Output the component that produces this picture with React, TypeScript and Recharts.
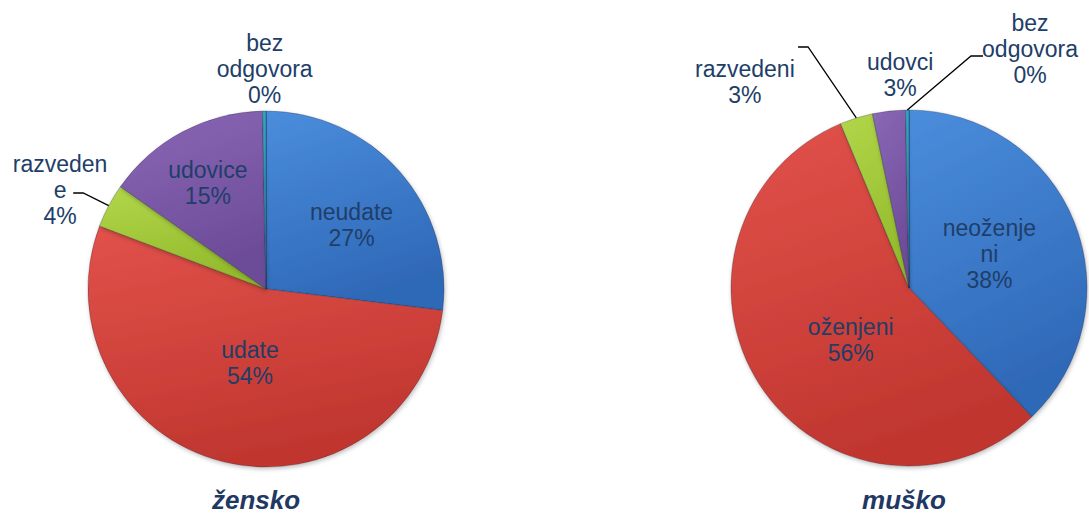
import { PieChart, Pie, Cell } from "recharts";

const femaleCategories = ["neudate", "udate", "razvedene", "udovice", "bez odgovora"];
const femaleValues = [27, 54, 4, 15, 0.3];
const femaleLabelLines = [["neudate"], ["udate"], ["razveden", "e"], ["udovice"], ["bez", "odgovora"]];

const maleCategories = ["neoženjeni", "oženjeni", "razvedeni", "udovci", "bez odgovora"];
const maleValues = [38, 56, 3, 3, 0.3];
const maleLabelLines = [["neoženje", "ni"], ["oženjeni"], ["razvedeni"], ["udovci"], ["bez", "odgovora"]];

const titles = ["žensko", "muško"];

const colors = [
  ["#4a8ddc", "#2f69b8"],
  ["#e2524b", "#c0362f"],
  ["#b2d64a", "#93bb2c"],
  ["#8a68b6", "#6c4b98"],
  ["#35aac4", "#1f8aa3"],
];

const LABEL_COLOR = "#203e68";
const RADIAN = Math.PI / 180;

interface Placement {
  rf: number;
  da: number;
  elbow?: { rf: number; da: number; len: number };
}

const femalePlacement: Placement[] = [
  { rf: 0.6, da: -4.8 },
  { rf: 0.425, da: 1.6 },
  { rf: 1.284, da: 2.2, elbow: { rf: 1.16, da: 0.2, len: -10 } },
  { rf: 0.68, da: 0.7 },
  { rf: 1.236, da: -0.2 },
];

const malePlacement: Placement[] = [
  { rf: 0.49, da: 1.0 },
  { rf: 0.44, da: 8.8 },
  { rf: 1.48, da: 21.3, elbow: { rf: 1.468, da: 5.5, len: -10 } },
  { rf: 1.2, da: -4.1 },
  { rf: 1.505, da: -27.4, elbow: { rf: 1.349, da: -15.5, len: 12 } },
];

const polar = (cx: number, cy: number, r: number, a: number) => ({
  x: cx + r * Math.cos(a * RADIAN),
  y: cy - r * Math.sin(a * RADIAN),
});

const makeLabel = (placement: Placement[], lines: string[][]) => (props: any) => {
  const { cx, cy, midAngle, outerRadius, index, value } = props;
  const p = placement[index];
  const pos = polar(cx, cy, outerRadius * p.rf, midAngle + p.da);
  const text = [...lines[index], `${Math.round(value)}%`];
  const lh = 26;
  const y0 = pos.y - ((text.length - 1) * lh) / 2;
  let leader = null;
  if (p.elbow) {
    const start = polar(cx, cy, outerRadius, midAngle);
    const elbow = polar(cx, cy, outerRadius * p.elbow.rf, midAngle + p.elbow.da);
    leader = (
      <polyline
        points={`${start.x},${start.y} ${elbow.x},${elbow.y} ${elbow.x + p.elbow.len},${elbow.y}`}
        fill="none"
        stroke="#000"
        strokeWidth={1.3}
      />
    );
  }
  return (
    <g>
      {leader}
      <text
        x={pos.x}
        y={y0}
        textAnchor="middle"
        fill={LABEL_COLOR}
        fontSize={23}
        fontFamily="'Liberation Sans', Arial, sans-serif"
      >
        {text.map((t, i) => (
          <tspan key={i} x={pos.x} y={y0 + i * lh} dominantBaseline="central">
            {t}
          </tspan>
        ))}
      </text>
    </g>
  );
};

const femaleData = femaleCategories.map((name, i) => ({ name, value: femaleValues[i] }));
const maleData = maleCategories.map((name, i) => ({ name, value: maleValues[i] }));

const App = () => {
  return (
    <div style={{ position: "absolute", left: 0, top: 0, width: 1089, height: 514, background: "#fff", overflow: "hidden" }}>
      <PieChart width={1089} height={514} margin={{ top: 0, right: 0, bottom: 0, left: 0 }}>
        <defs>
          {colors.map((c, i) => (
            <linearGradient key={i} id={`grad${i}`} x1="0" y1="0" x2="0.3" y2="1">
              <stop offset="0%" stopColor={c[0]} />
              <stop offset="100%" stopColor={c[1]} />
            </linearGradient>
          ))}
          <filter id="shadow" x="-10%" y="-10%" width="120%" height="120%">
            <feDropShadow dx="1" dy="2" stdDeviation="2" floodColor="#000" floodOpacity="0.25" />
          </filter>
        </defs>
        <Pie
          data={femaleData}
          dataKey="value"
          nameKey="name"
          cx={266}
          cy={289}
          outerRadius={178}
          startAngle={90}
          endAngle={-270}
          stroke="rgba(30,30,50,0.35)"
          strokeWidth={0.8}
          label={makeLabel(femalePlacement, femaleLabelLines)}
          labelLine={false}
          isAnimationActive={false}
          style={{ filter: "url(#shadow)" }}
        >
          {femaleData.map((_, i) => (
            <Cell key={i} fill={`url(#grad${i})`} />
          ))}
        </Pie>
        <Pie
          data={maleData}
          dataKey="value"
          nameKey="name"
          cx={909}
          cy={288}
          outerRadius={178}
          startAngle={90}
          endAngle={-270}
          stroke="rgba(30,30,50,0.35)"
          strokeWidth={0.8}
          label={makeLabel(malePlacement, maleLabelLines)}
          labelLine={false}
          isAnimationActive={false}
          style={{ filter: "url(#shadow)" }}
        >
          {maleData.map((_, i) => (
            <Cell key={i} fill={`url(#grad${i})`} />
          ))}
        </Pie>
      </PieChart>
      {titles.map((t, i) => (
        <div
          key={t}
          style={{
            position: "absolute",
            left: i === 0 ? 256 - 100 : 904 - 100,
            width: 200,
            top: 487,
            height: 26,
            textAlign: "center",
            fontFamily: "'Liberation Sans', Arial, sans-serif",
            fontWeight: "bold",
            fontStyle: "italic",
            fontSize: 26,
            lineHeight: "26px",
            color: "#1f3864",
          }}
        >
          {t}
        </div>
      ))}
    </div>
  );
};

export default App;
